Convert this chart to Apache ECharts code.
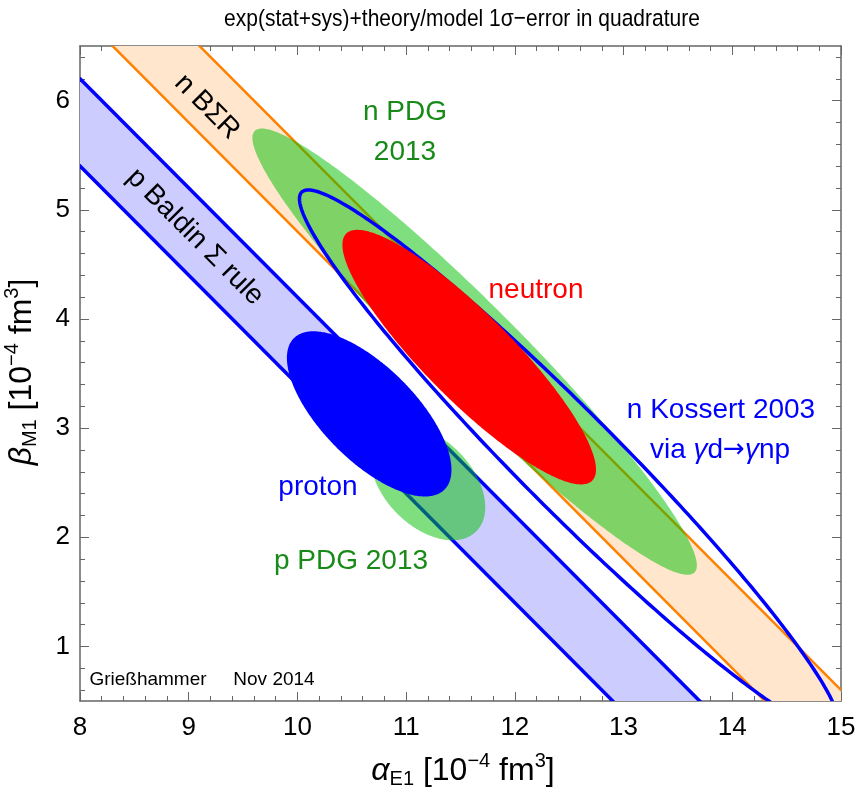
<!DOCTYPE html>
<html><head><meta charset="utf-8">
<script src="https://cdn.jsdelivr.net/npm/echarts@6/dist/echarts.min.js"></script>
<style>html,body{margin:0;padding:0;background:#fff}#c{width:859px;height:791px}</style>
</head><body><div id="c"></div>
<script>
// ---------------- data ----------------
const xRange = [8, 15];
const yRange = [0.5, 6.5];
const xTickStep = 1;
const yMajorTicks = [1, 2, 3, 4, 5, 6];
const minorStep = 0.2;
// sum-rule bands: alpha + beta between [low, high]
const baldinProtonSum = [13.4, 14.2];
const baldinNeutronSum = [14.8, 15.6];
// ellipses: [centre alpha, centre beta, semi-major, semi-minor, tilt in degrees]
const nPDG2013 = [11.63, 3.70, 2.86, 0.42, -45];
const pPDG2013 = [11.2, 2.5, 0.63, 0.40, -45];
const protonFit = [10.66, 3.13, 0.98, 0.43, -45];
const neutronFit = [11.58, 3.65, 1.6, 0.40, -45];
const nKossert2003 = [12.5, 2.7, 3.48, 0.45, -45];

// ---------------- helpers ----------------
const FONT = '"Liberation Sans", Arial, sans-serif';
function ellipsePoints(e, api) {
  const cx = e[0], cy = e[1], a = e[2], b = e[3], t = e[4] * Math.PI / 180;
  const ct = Math.cos(t), st = Math.sin(t), pts = [];
  for (let i = 0; i < 360; i++) {
    const p = i / 360 * 2 * Math.PI, u = a * Math.cos(p), v = b * Math.sin(p);
    pts.push(api.coord([cx + u * ct - v * st, cy + u * st + v * ct]));
  }
  return pts;
}
function clipRect(params) {
  const c = params.coordSys;
  return { type: 'rect', shape: { x: c.x, y: c.y, width: c.width, height: c.height } };
}
function ellipseSeries(e, fill, opacity, z) {
  return {
    type: 'custom', z: z, silent: true, data: [0],
    renderItem: function (params, api) {
      return { type: 'group', clipPath: clipRect(params), children: [{
        type: 'polygon', shape: { points: ellipsePoints(e, api) },
        style: { fill: fill, opacity: opacity, stroke: null }
      }]};
    }
  };
}
function outlineSeries(e, stroke, width, z) {
  return {
    type: 'custom', z: z, silent: true, data: [0],
    renderItem: function (params, api) {
      return { type: 'group', clipPath: clipRect(params), children: [{
        type: 'polygon', shape: { points: ellipsePoints(e, api) },
        style: { fill: null, stroke: stroke, lineWidth: width }
      }]};
    }
  };
}
function bandSeries(sum, fill, stroke, width, z) {
  return {
    type: 'custom', z: z, silent: true, data: [0],
    renderItem: function (params, api) {
      const a0 = xRange[0] - 1, a1 = xRange[1] + 1;
      const lo0 = api.coord([a0, sum[0] - a0]), lo1 = api.coord([a1, sum[0] - a1]);
      const hi0 = api.coord([a0, sum[1] - a0]), hi1 = api.coord([a1, sum[1] - a1]);
      return { type: 'group', clipPath: clipRect(params), children: [
        { type: 'polygon', shape: { points: [lo0, lo1, hi1, hi0] }, style: { fill: fill, stroke: null } },
        { type: 'polyline', shape: { points: [lo0, lo1] }, style: { fill: null, stroke: stroke, lineWidth: width } },
        { type: 'polyline', shape: { points: [hi0, hi1] }, style: { fill: null, stroke: stroke, lineWidth: width } }
      ]};
    }
  };
}
const mctx = document.createElement('canvas').getContext('2d');
function fontStr(size, italic, fam) { return (italic ? 'italic ' : '') + size + 'px ' + (fam || FONT); }
function buildTitle(segs, cx, cy, rotation) {
  let total = 0;
  const ws = segs.map(s => { mctx.font = fontStr(s[1], s[2]); const w = mctx.measureText(s[0]).width; total += w; return w; });
  let x = -total / 2;
  const children = [];
  segs.forEach((s, i) => {
    children.push({ type: 'text', x: x, y: s[3], style: {
      text: s[0], font: fontStr(s[1], s[2]), fill: '#000',
      align: 'left', verticalAlign: 'middle', textAlign: 'left', textVerticalAlign: 'middle' } });
    x += ws[i];
  });
  return { type: 'group', x: cx, y: cy, rotation: rotation, z: 100, children: children };
}
function label(txt, x, y, size, color, rotation, extra) {
  const st = { text: txt, font: fontStr(size, false), fill: color,
    align: 'center', verticalAlign: 'middle', textAlign: 'center', textVerticalAlign: 'middle' };
  if (extra) Object.assign(st, extra);
  return { type: 'text', x: x, y: y, rotation: rotation || 0, z: 100, style: st };
}

// minor tick positions on the y axis (multiples of minorStep that are not major ticks)
const yMinorTicks = [];
for (let i = Math.ceil(yRange[0] / minorStep - 1e-9); i * minorStep <= yRange[1] + 1e-9; i++) {
  const v = +(i * minorStep).toFixed(6);
  if (Math.abs(v - Math.round(v)) > 1e-6) yMinorTicks.push(v);
}

const axisColor = '#666';
function xAx(pos, showLabel) {
  return { type: 'value', min: xRange[0], max: xRange[1], interval: xTickStep, position: pos,
    axisLine: { show: true, onZero: false, lineStyle: { color: axisColor, width: 1.5 } },
    axisTick: { show: true, inside: true, length: 9, lineStyle: { color: axisColor, width: 1 } },
    minorTick: { show: true, splitNumber: 5, length: 5, lineStyle: { color: axisColor, width: 1 } },
    splitLine: { show: false }, minorSplitLine: { show: false },
    axisLabel: { show: showLabel, fontSize: 26, color: '#000', fontFamily: FONT, margin: 14 } };
}
function yAx(pos, showLabel) {
  return { type: 'value', min: yRange[0], max: yRange[1], position: pos,
    axisLine: { show: true, onZero: false, lineStyle: { color: axisColor, width: 1.5 } },
    axisTick: { show: true, inside: true, length: 9, customValues: yMajorTicks, lineStyle: { color: axisColor, width: 1 } },
    minorTick: { show: false },
    splitLine: { show: false }, minorSplitLine: { show: false },
    axisLabel: { show: showLabel, customValues: yMajorTicks, fontSize: 26, color: '#000', fontFamily: FONT, margin: 10 } };
}
function yMinorAx(pos) {
  return { type: 'value', min: yRange[0], max: yRange[1], position: pos,
    axisLine: { show: false, onZero: false },
    axisTick: { show: true, inside: true, length: 5, customValues: yMinorTicks, lineStyle: { color: axisColor, width: 1 } },
    minorTick: { show: false },
    splitLine: { show: false }, minorSplitLine: { show: false },
    axisLabel: { show: false } };
}

const green = 'rgb(0,192,0)';
const textGreen = '#188a18';
const titleEl = label('exp(stat+sys)+theory/model 1\u03c3\u2212error in quadrature', 462, 19, 21, '#000', 0);
titleEl.scaleY = 1.18;
const chart = echarts.init(document.getElementById('c'), null, { renderer: 'canvas' });
chart.setOption({
  animation: false,
  backgroundColor: '#fff',
  grid: { left: 80, right: 18, top: 46, bottom: 90, containLabel: false },
  xAxis: [xAx('bottom', true), xAx('top', false)],
  yAxis: [yAx('left', true), yAx('right', false), yMinorAx('left'), yMinorAx('right')],
  series: [
    bandSeries(baldinProtonSum, '#ccccff', '#0000ff', 3.5, 1),
    bandSeries(baldinNeutronSum, '#ffe6cc', '#ff8000', 2.5, 2),
    ellipseSeries(nPDG2013, green, 0.5, 3),
    ellipseSeries(pPDG2013, green, 0.5, 4),
    ellipseSeries(protonFit, '#0000ff', 1, 5),
    outlineSeries(nKossert2003, '#0000ff', 3.5, 6),
    ellipseSeries(neutronFit, '#ff0000', 1, 7)
  ],
  graphic: [
    titleEl,
    buildTitle([['\u03b1', 32, true, 0], ['E1', 20, false, 8], [' [10', 32, false, 0], ['\u22124', 20, false, -10],
      [' fm', 32, false, 0], ['3', 20, false, -10], [']', 32, false, 0]], 463, 771, 0),
    buildTitle([['\u03b2', 32, true, 0], ['M1', 20, false, 8], [' [10', 32, false, 0], ['\u22124', 20, false, -10],
      [' fm', 32, false, 0], ['3', 20, false, -10], [']', 32, false, 0]], 22, 372, Math.PI / 2),
    label('n B\u03a3R', 207, 107, 28, '#000', -Math.PI / 4),
    label('p Baldin \u03a3 rule', 195, 237, 28, '#000', -Math.PI / 4),
    label('n PDG', 405, 112, 28, textGreen, 0),
    label('2013', 405, 152, 28, textGreen, 0),
    label('neutron', 536, 290, 28, '#ff0000', 0),
    label('n Kossert 2003', 721, 410, 28, '#0000ff', 0),
    label('{n|via }{g|\u03b3}{n|d}{a|\u2192}{g|\u03b3}{n|np}', 720, 450, 28, '#0000ff', 0, {
      rich: { n: { font: fontStr(28, false), fill: '#0000ff' },
              g: { font: fontStr(28, true), fill: '#0000ff' },
              a: { font: fontStr(26, false, '"DejaVu Sans", sans-serif'), fill: '#0000ff' } } }),
    label('proton', 318, 487, 28, '#0000ff', 0),
    label('p PDG 2013', 351, 561, 28, textGreen, 0),
    label('Grie\u00dfhammer', 148, 680, 19, '#000', 0),
    label('Nov 2014', 274, 680, 19, '#000', 0)
  ]
});
</script></body></html>
